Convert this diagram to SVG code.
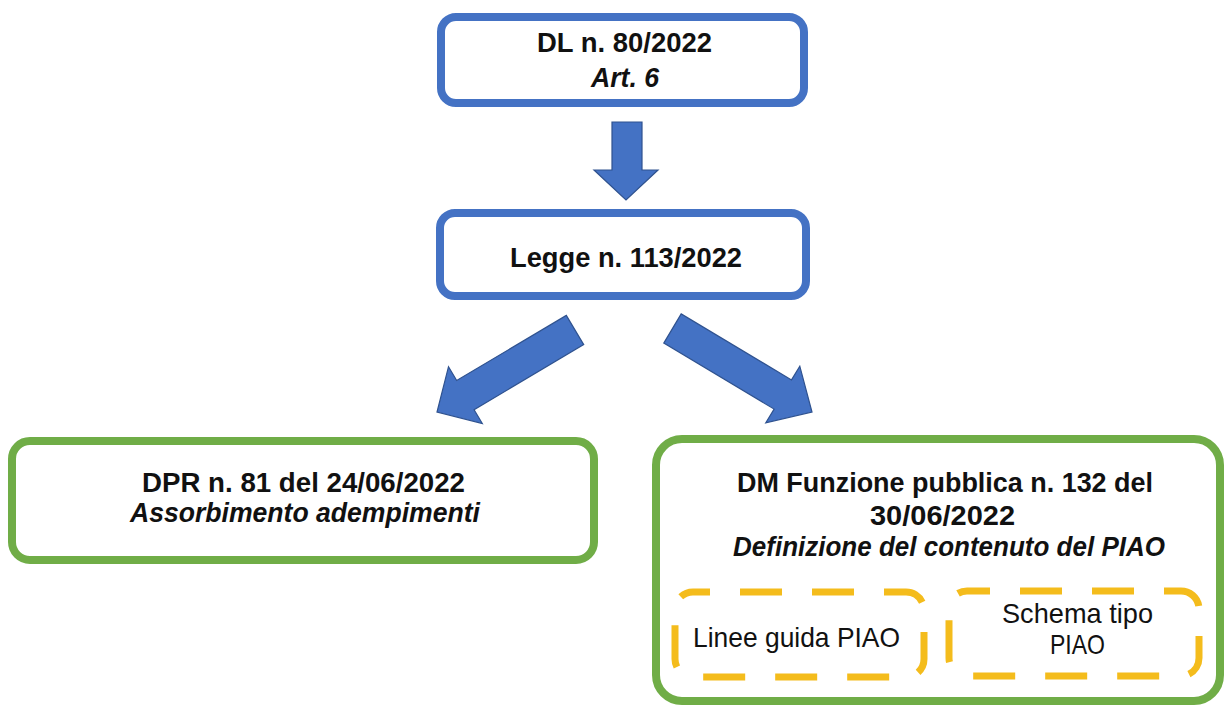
<svg xmlns="http://www.w3.org/2000/svg" width="1229" height="706" viewBox="0 0 1229 706">
<style>
.blue{fill:#fff;stroke:#4472C4;stroke-width:8}
.green{fill:#fff;stroke:#70AD47;stroke-width:8}
.dash{fill:none;stroke:#F4BC1C;stroke-width:7;stroke-dasharray:42 30}
.arrow{fill:#4472C4;stroke:#2F528F;stroke-width:1.2;stroke-linejoin:miter}
text{font-family:"Liberation Sans",Arial,sans-serif;fill:#111;text-anchor:middle}
.b{font-weight:bold;font-size:27.5px}
.bi{font-weight:bold;font-style:italic;font-size:27.5px}
.r{font-size:28px}
</style>
<rect width="1229" height="706" fill="#fff"/>
<g id="connectors">
<polygon class="arrow" points="612,122 642,122 642,170 658,170 626,200 594,170 612,170"/>
<polygon class="arrow" points="566.3,315.4 583.7,344.6 474.1,409.7 482.3,423.5 437,412 448.5,366.7 456.7,380.5"/>
<polygon class="arrow" points="681.2,313.9 663.8,343.1 774.1,409.1 765.8,422.8 812,412 799.8,366.2 791.5,379.9"/>
</g>
<g id="dl80">
<rect class="blue" x="441" y="17" width="363" height="86" rx="15"/>
<text class="b" x="624.5" y="52" textLength="175" lengthAdjust="spacingAndGlyphs">DL n. 80/2022</text>
<text class="bi" x="625" y="87" textLength="68" lengthAdjust="spacingAndGlyphs">Art. 6</text>
</g>
<g id="legge113">
<rect class="blue" x="440" y="213" width="366" height="83" rx="15"/>
<text class="b" x="626" y="267" textLength="232" lengthAdjust="spacingAndGlyphs">Legge n. 113/2022</text>
</g>
<g id="dpr81">
<rect class="green" x="12" y="441" width="582" height="119" rx="18"/>
<text class="b" x="303.5" y="492" textLength="323" lengthAdjust="spacingAndGlyphs">DPR n. 81 del 24/06/2022</text>
<text class="bi" x="305" y="522" textLength="350" lengthAdjust="spacingAndGlyphs">Assorbimento adempimenti</text>
</g>
<g id="dm132">
<rect class="green" x="656" y="439" width="564" height="262" rx="26"/>
<text class="b" x="945" y="492" textLength="416" lengthAdjust="spacingAndGlyphs">DM Funzione pubblica n. 132 del</text>
<text class="b" x="942.5" y="525" textLength="145" lengthAdjust="spacingAndGlyphs">30/06/2022</text>
<text class="bi" x="949" y="556" textLength="432" lengthAdjust="spacingAndGlyphs">Definizione del contenuto del PIAO</text>
</g>
<g id="lineeguida">
<rect class="dash" x="675" y="592" width="249" height="85" rx="18" stroke-dashoffset="25"/>
<text class="r" x="796.5" y="647" textLength="207" lengthAdjust="spacingAndGlyphs">Linee guida PIAO</text>
</g>
<g id="schematipo">
<rect class="dash" x="949" y="591" width="250" height="85" rx="18" stroke-dashoffset="19"/>
<text class="r" x="1077.5" y="623" textLength="151" lengthAdjust="spacingAndGlyphs">Schema tipo</text>
<text class="r" x="1077.5" y="654" textLength="55" lengthAdjust="spacingAndGlyphs">PIAO</text>
</g>
</svg>
